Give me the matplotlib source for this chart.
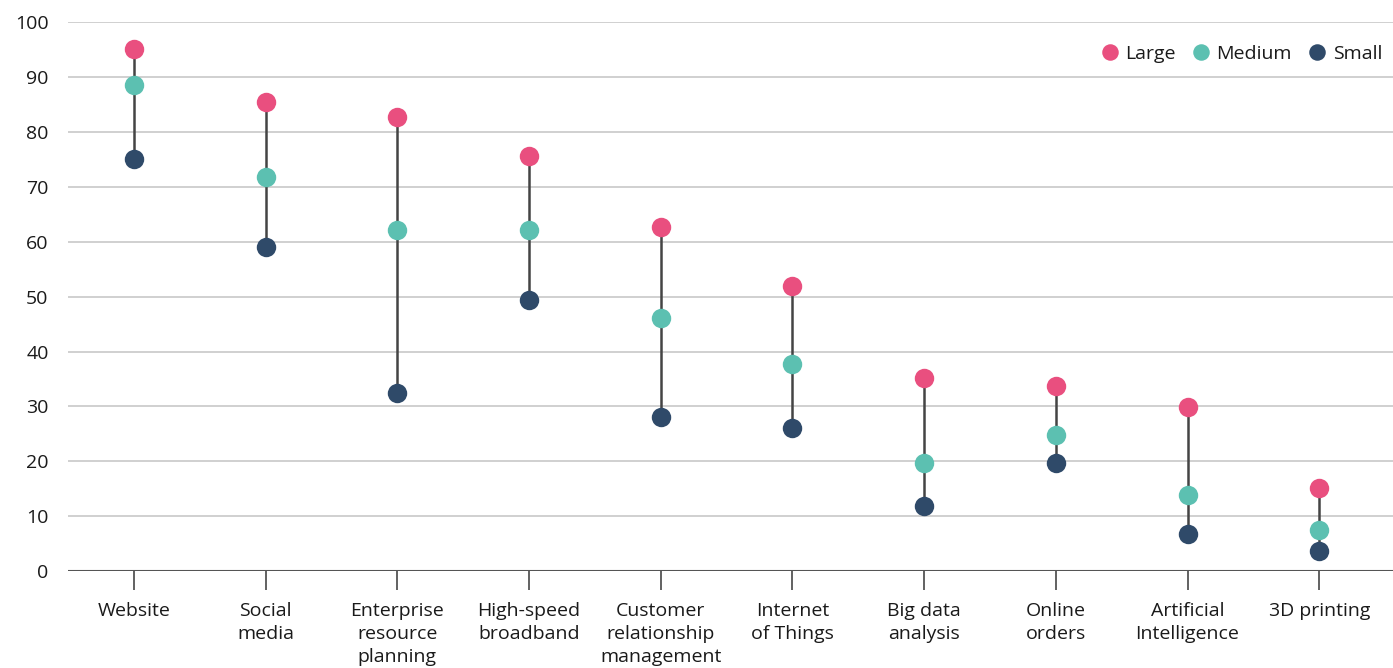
import matplotlib.pyplot as plt
import numpy as np

plt.rcParams['font.family'] = ['Open Sans', 'DejaVu Sans']

categories = ['Website', 'Social\nmedia', 'Enterprise\nresource\nplanning',
              'High-speed\nbroadband', 'Customer\nrelationship\nmanagement',
              'Internet\nof Things', 'Big data\nanalysis', 'Online\norders',
              'Artificial\nIntelligence', '3D printing']
large = [95.1, 85.4, 82.7, 75.6, 62.7, 51.9, 35.2, 33.7, 29.9, 15.1]
medium = [88.5, 71.8, 62.1, 62.1, 46.1, 37.7, 19.7, 24.8, 13.8, 7.5]
small = [75.0, 59.0, 32.4, 49.4, 28.1, 26.0, 11.8, 19.7, 6.7, 3.6]

col_large = '#e94f7f'
col_medium = '#5cc0b1'
col_small = '#2f4a69'

fig = plt.figure(figsize=(13.93, 6.68), dpi=100)
ax = fig.add_axes([0.0488, 0.145, 0.9512, 0.822])

x = np.arange(len(categories))

# gridlines
for yv in range(10, 101, 10):
    ax.axhline(yv, color='#c8c8c8', lw=1.2, zorder=0)
ax.axhline(0, color='#555555', lw=1.5, zorder=1)

# connecting lines
ax.vlines(x, small, large, color='#444444', lw=1.8, zorder=2)

ms = 14
ax.plot(x, large, 'o', color=col_large, ms=ms, mec='none', zorder=3, label='Large', clip_on=False)
ax.plot(x, medium, 'o', color=col_medium, ms=ms, mec='none', zorder=3, label='Medium', clip_on=False)
ax.plot(x, small, 'o', color=col_small, ms=ms, mec='none', zorder=3, label='Small', clip_on=False)

ax.set_xlim(-0.5, 9.56)
ax.set_ylim(0, 100)
ax.set_yticks(range(0, 101, 10))
ax.set_xticks(x)
ax.set_xticklabels(categories, fontsize=14, linespacing=1.38, color='#1a1a1a')
ax.tick_params(axis='y', length=0, pad=14, labelsize=14, labelcolor='#1a1a1a')
ax.tick_params(axis='x', length=14, width=1.3, color='#555555', pad=8)

for s in ax.spines.values():
    s.set_visible(False)

leg = ax.legend(loc='upper right', bbox_to_anchor=(1.005, 0.99), ncol=3, frameon=False,
                fontsize=14, handletextpad=-0.2, columnspacing=0.3, markerscale=0.85)
for t in leg.get_texts():
    t.set_color('#1a1a1a')

fig.savefig('out.png', dpi=100)
